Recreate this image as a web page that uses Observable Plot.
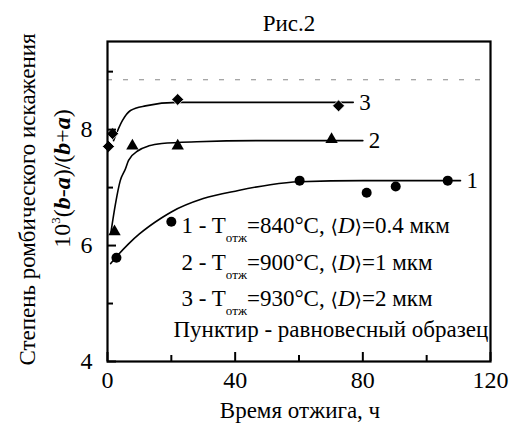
<!DOCTYPE html>
<html>
<head>
<meta charset="utf-8">
<script src="https://cdn.jsdelivr.net/npm/d3@7"></script>
<script src="https://cdn.jsdelivr.net/npm/@observablehq/plot@0.6"></script>
<style>
  html, body { margin: 0; padding: 0; background: #fff; }
</style>
</head>
<body>
<div id="chart"></div>
<script>
// ---- data ----
const title = "Рис.2";
const xLabel = "Время отжига, ч";
const yLabel1 = "Степень ромбического искажения";
const yLabel2 = "10^3(b-a)/(b+a)";
const xMajorTicks = [0, 40, 80, 120];
const xMinorTicks = [20, 60, 100];
const yMajorTicks = [4, 6, 8];
const yMinorTicks = [5, 7, 9];
const equilibrium = 8.86;

// series 1 (circles) T=840
const s1X = [2.8, 20, 60.2, 81.2, 90.3, 106.6];
const s1Y = [5.79, 6.41, 7.12, 6.91, 7.02, 7.12];
// series 2 (triangles) T=900
const s2X = [2.2, 7.8, 22, 70.2];
const s2Y = [6.24, 7.72, 7.72, 7.83];
// series 3 (diamonds) T=930
const s3X = [0.3, 1.6, 22, 72.4];
const s3Y = [7.71, 7.93, 8.52, 8.41];

// fitted curves
const f1X = [1, 3, 6.6, 10, 17, 20, 30, 41, 51, 60, 80, 110.6];
const f1Y = [5.69, 5.82, 6.03, 6.2, 6.48, 6.58, 6.81, 6.95, 7.05, 7.1, 7.12, 7.12];
const f2X = [1, 2.5, 4, 5.6, 6.6, 9.7, 13, 17, 28, 50, 80];
const f2Y = [6.2, 6.72, 7.12, 7.32, 7.47, 7.64, 7.72, 7.76, 7.79, 7.81, 7.81];
const f3X = [1.9, 4.7, 7.2, 11.9, 22, 50, 77];
const f3Y = [7.81, 8.16, 8.33, 8.41, 8.47, 8.47, 8.47];

const seriesLabels = ["1", "2", "3"];
const legendLines = [
  "1 - T_отж=840°C, ⟨D⟩=0.4 мкм",
  "2 - T_отж=900°C, ⟨D⟩=1 мкм",
  "3 - T_отж=930°C, ⟨D⟩=2 мкм",
  "Пунктир - равновесный образец"
];

// ---- build tables ----
const pts = (xs, ys) => xs.map((x, i) => ({x, y: ys[i]}));
const p1 = pts(s1X, s1Y), p2 = pts(s2X, s2Y), p3 = pts(s3X, s3Y);
const c1 = pts(f1X, f1Y), c2 = pts(f2X, f2Y), c3 = pts(f3X, f3Y);
const ends = [c1, c2, c3].map((c, i) => ({...c[c.length - 1], label: seriesLabels[i]}));

const FONT = '"Liberation Serif", "DejaVu Serif", "DejaVu Sans", serif';
const FS = 23;
const W = 513, H = 423, ML = 107, MR = 23, MT = 41, MB = 62;
const frameW = W - ML - MR, frameH = H - MT - MB;

const plot = Plot.plot({
  width: W,
  height: H,
  marginLeft: ML,
  marginRight: MR,
  marginTop: MT,
  marginBottom: MB,
  style: {fontSize: FS + "px", color: "#000", background: "#fff", overflow: "visible"},
  x: {domain: [0, 120]},
  y: {domain: [4, 9.52]},
  marks: [
    Plot.ruleY([equilibrium], {stroke: "#888", strokeWidth: 1, strokeDasharray: "5,11"}),
    Plot.line(c1, {x: "x", y: "y", curve: "monotone-x", stroke: "#000", strokeWidth: 1.6}),
    Plot.line(c2, {x: "x", y: "y", curve: "monotone-x", stroke: "#000", strokeWidth: 1.6}),
    Plot.line(c3, {x: "x", y: "y", curve: "monotone-x", stroke: "#000", strokeWidth: 1.6}),
    Plot.dot(p1, {x: "x", y: "y", symbol: "circle", r: 5, fill: "#000"}),
    Plot.dot(p2, {x: "x", y: "y", symbol: "triangle", r: 4.6, fill: "#000"}),
    Plot.dot(p3, {x: "x", y: "y", symbol: "diamond2", r: 5.4, fill: "#000", stroke: "#fff", strokeWidth: 0.8}),
    Plot.text(ends, {x: "x", y: "y", text: "label", textAnchor: "start", dx: 6, fontSize: FS}),
    // inward ticks
    Plot.tickX(xMajorTicks, {x: d => d, insetTop: frameH - 9, stroke: "#000", strokeWidth: 2}),
    Plot.tickX(xMinorTicks, {x: d => d, insetTop: frameH - 6, stroke: "#000", strokeWidth: 2}),
    Plot.tickY(yMajorTicks, {y: d => d, insetRight: frameW - 9, stroke: "#000", strokeWidth: 2}),
    Plot.tickY(yMinorTicks, {y: d => d, insetRight: frameW - 6, stroke: "#000", strokeWidth: 2}),
    Plot.axisX({ticks: xMajorTicks, tickSize: 0, tickPadding: 9, tickFormat: "d", fontSize: 24, label: null}),
    Plot.axisY({ticks: yMajorTicks, tickSize: 0, tickPadding: 15, tickFormat: "d", fontSize: 24, label: null}),
    Plot.frame({stroke: "#000", strokeWidth: 2.2}),
    // titles
    Plot.text([title], {frameAnchor: "top", dx: -10, dy: -18, lineAnchor: "middle", fontSize: FS}),
    Plot.text([xLabel], {frameAnchor: "bottom", dx: 1, dy: 49, lineAnchor: "middle", fontSize: FS}),
    Plot.text([yLabel1], {frameAnchor: "left", rotate: -90, dx: -80, dy: -2, lineAnchor: "middle", textAnchor: "middle", fontSize: FS}),
    Plot.text([yLabel2], {frameAnchor: "left", rotate: -90, dx: -45, dy: -23, lineAnchor: "middle", textAnchor: "middle", fontSize: 24}),
    // legend text
    Plot.text([legendLines[0]], {frameAnchor: "top-left", dx: 74, dy: 184, lineAnchor: "middle", textAnchor: "start", fontSize: FS}),
    Plot.text([legendLines[1]], {frameAnchor: "top-left", dx: 74, dy: 221, lineAnchor: "middle", textAnchor: "start", fontSize: FS}),
    Plot.text([legendLines[2]], {frameAnchor: "top-left", dx: 74, dy: 257, lineAnchor: "middle", textAnchor: "start", fontSize: FS}),
    Plot.text([legendLines[3]], {frameAnchor: "top-left", dx: 66, dy: 288, lineAnchor: "middle", textAnchor: "start", fontSize: FS})
  ]
});
plot.setAttribute("font-family", FONT);
document.getElementById("chart").appendChild(plot);

// ---- rich text (sub/superscripts, italic, bold) ----
function richParts(s) {
  if (s === yLabel2) {
    return [["10"], ["3", "sup"], ["("], ["b", "bi"], ["-"], ["a", "bi"], [")/("], ["b", "bi"], ["+"], ["a", "bi"], [")"]];
  }
  const m = s.match(/^(.*?)T_отж(.*?)⟨D⟩(.*)$/);
  if (m) {
    return [[m[1] + "T"], ["отж", "sub"], [m[2]], ["⟨", "br"], ["D", "i"], ["⟩", "br"], [m[3]]];
  }
  return null;
}
d3.select(plot).selectAll("text").each(function () {
  const el = this;
  el.setAttribute("font-family", FONT);
  if (el.querySelector("tspan")) return;
  const parts = richParts(el.textContent);
  if (!parts) return;
  el.textContent = "";
  let shift = 0;
  for (const [t, kind] of parts) {
    const ts = document.createElementNS("http://www.w3.org/2000/svg", "tspan");
    ts.textContent = t;
    let target = 0;
    if (kind === "sub") { ts.setAttribute("font-size", "13"); target = 9; }
    if (kind === "sup") { ts.setAttribute("font-size", "13"); target = -10; }
    if (kind === "br") { ts.setAttribute("font-size", "19"); ts.setAttribute("font-family", '"DejaVu Sans", sans-serif'); }
    if (kind === "i") ts.setAttribute("font-style", "italic");
    if (kind === "bi") { ts.setAttribute("font-style", "italic"); ts.setAttribute("font-weight", "bold"); }
    if (target !== shift) { ts.setAttribute("dy", target - shift); shift = target; }
    el.appendChild(ts);
  }
});
</script>
</body>
</html>
